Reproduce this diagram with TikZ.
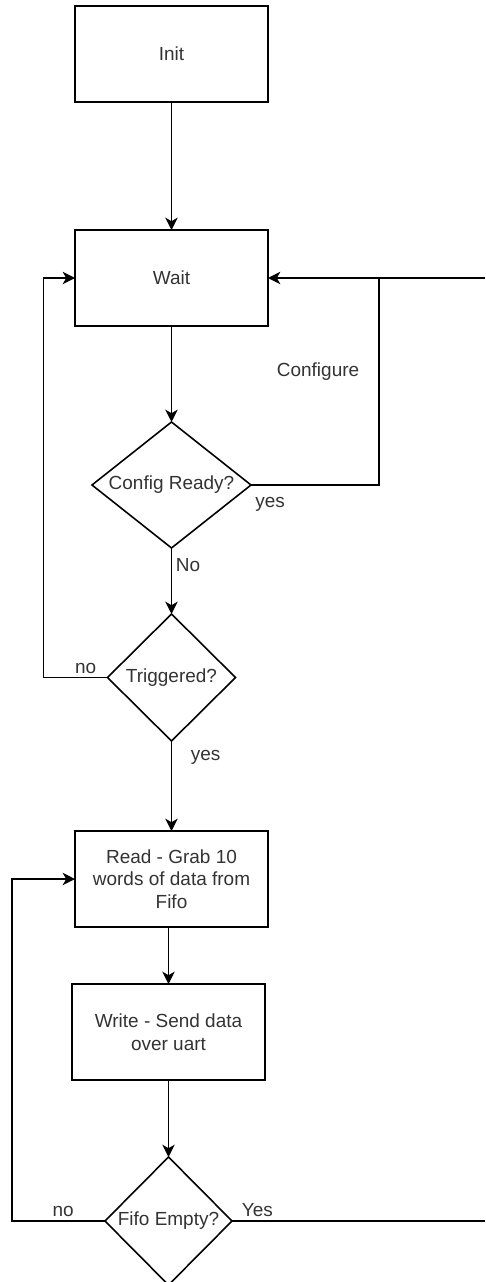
\documentclass[tikz,border=0pt]{standalone}
\usepackage{fontspec}
\setmainfont{Liberation Sans}
\usepackage{xcolor}
\usepackage{tikz}
\usetikzlibrary{positioning,arrows.meta,shapes.geometric}
\definecolor{inkgray}{RGB}{51,51,51}
\tikzset{
  box/.style    = {draw, align=center, minimum width=3.86cm, minimum height=1.92cm, inner sep=2pt, outer sep=0pt, text=inkgray},
  decide/.style = {draw, diamond, align=center, inner sep=0pt, outer sep=0pt, text=inkgray},
  flow/.style   = {-{Stealth[length=7pt,width=7pt,inset=2pt]}},
  link/.style   = {},
  lbl/.style    = {inner sep=2pt, text=inkgray},
}

\begin{document}
\begin{tikzpicture}[line width=0.9pt, font=\fontsize{10.8}{12.9}\selectfont]
  \useasboundingbox (0,0) rectangle (9.7,-25.64);
  \coordinate (rim) at (9.7,0);
  \node[box] (init) at (3.43,-1.08) {Init};
  \node[box, below=2.56cm of init] (wait) {Wait};
  \node[decide, aspect=1.26, minimum width=3.18cm, minimum height=2.52cm, below=1.92cm of wait] (cfg) {Config Ready?};
  \node[decide, minimum width=2.56cm, minimum height=2.54cm, below=1.32cm of cfg] (trig) {Triggered?};
  \node[box, below=1.8cm of trig] (read) {Read - Grab 10\\ words of data from\\ Fifo};
  \node[box, below=1.14cm of read, xshift=-0.06cm] (write) {Write - Send data\\ over uart};
  \node[decide, minimum width=2.54cm, minimum height=2.56cm, below=1.54cm of write] (fifo) {Fifo Empty?};
  \coordinate[right=2.22cm of wait.east] (join);

  \draw[flow] (init) -- (wait);
  \draw[flow] (wait) -- (cfg);
  \draw[flow] (cfg.east) -| node[lbl, pos=0, anchor=north west, yshift=-0.15cm]{yes}
    node[lbl, pos=0.773, left=0.31cm]{Configure} (join) -- (wait.east);
  \draw[link] (rim |- wait.east) -- (join);
  \draw[flow] (cfg) -- node[lbl, pos=0.26, right]{No} (trig);
  \draw[flow] (trig.west) -- node[lbl, pos=0.34, above]{no} ++(-1.28,0) |- (wait.west);
  \draw[flow] (trig) -- node[lbl, pos=0.18, right=0.3cm]{yes} (read);
  \draw[flow] (read.south -| write.north) -- (write.north);
  \draw[flow] (write) -- (fifo);
  \draw[flow] (fifo.west) -- node[lbl, pos=0.45, above]{no} ++(-1.86,0) |- (read.west);
  \draw[link] (fifo.east) -- node[lbl, pos=0.1, above]{Yes} (rim |- fifo.east);
\end{tikzpicture}
\end{document}
